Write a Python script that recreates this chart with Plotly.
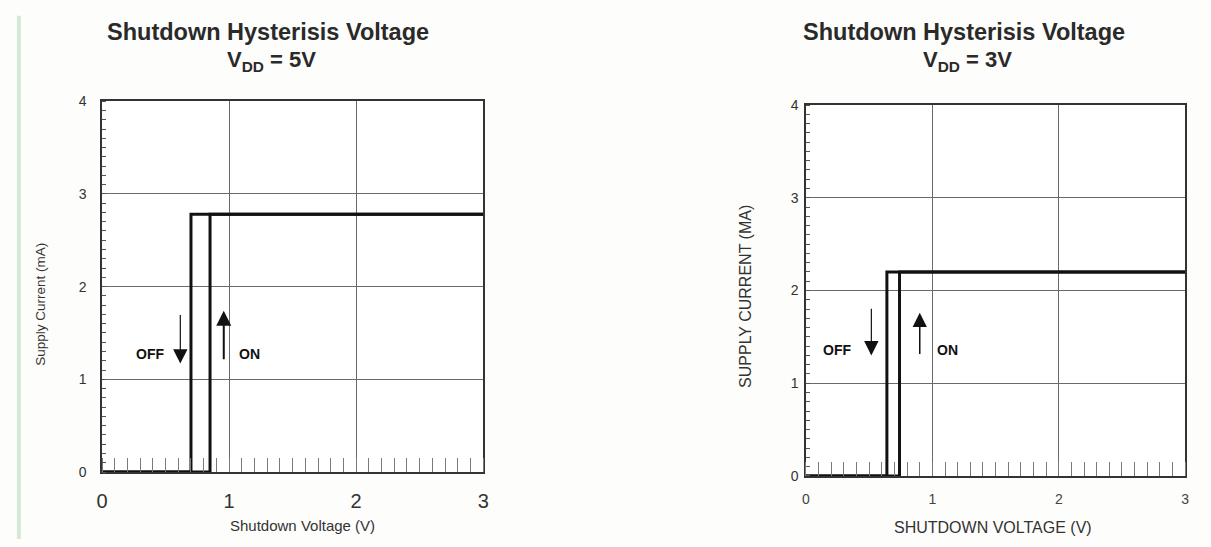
import plotly.graph_objects as go

# Supply current vs shutdown voltage, two supply conditions
# VDD = 5 V
v5_off_x = [0, 0.70, 0.70, 3]
v5_off_y = [0, 0, 2.78, 2.78]
v5_on_x = [0, 0.85, 0.85, 3]
v5_on_y = [0, 0, 2.78, 2.78]
# VDD = 3 V
v3_off_x = [0, 0.64, 0.64, 3]
v3_off_y = [0, 0, 2.2, 2.2]
v3_on_x = [0, 0.74, 0.74, 3]
v3_on_y = [0, 0, 2.2, 2.2]

x_ticks = [0, 1, 2, 3]
y_ticks = [0, 1, 2, 3, 4]

FONT = "Liberation Sans, Arial, sans-serif"
W, H = 1211, 547

fig = go.Figure()
line_style = dict(color="#111111", width=3)
for xs, ys, xa, ya in [
    (v5_off_x, v5_off_y, "x", "y"),
    (v5_on_x, v5_on_y, "x", "y"),
    (v3_off_x, v3_off_y, "x2", "y2"),
    (v3_on_x, v3_on_y, "x2", "y2"),
]:
    fig.add_trace(go.Scatter(x=xs, y=ys, mode="lines", line=line_style,
                             xaxis=xa, yaxis=ya, showlegend=False,
                             hoverinfo="skip"))


def px_x(p):
    return p / W


def px_y(p):
    return 1 - p / H


def xaxis(domain, tick_size, tick_color, anchor, standoff):
    return dict(domain=domain, range=[0, 3], tickvals=x_ticks,
                ticktext=[str(t) for t in x_ticks], showgrid=True,
                gridcolor="#6a6a6a", gridwidth=1, zeroline=False,
                showline=True, linecolor="#333333", linewidth=1.5,
                mirror=True, ticks="", ticklabelstandoff=standoff,
                anchor=anchor,
                tickfont=dict(family=FONT, size=tick_size, color=tick_color),
                minor=dict(dtick=0.1, tick0=0, ticks="inside", ticklen=14,
                           tickcolor="#7a7a7a", tickwidth=1, showgrid=False),
                fixedrange=True)


def yaxis(domain, anchor, standoff):
    return dict(domain=domain, range=[0, 4], tickvals=y_ticks,
                ticktext=[str(t) for t in y_ticks], showgrid=True,
                gridcolor="#6a6a6a", gridwidth=1, zeroline=False,
                showline=True, linecolor="#333333", linewidth=1.5,
                mirror=True, ticks="", ticklabelstandoff=standoff,
                anchor=anchor,
                tickfont=dict(family=FONT, size=14, color="#333333"),
                minor=dict(dtick=0.1, tick0=0, ticks="inside", ticklen=4,
                           tickcolor="#555555", tickwidth=1, showgrid=False),
                fixedrange=True)


fig.update_layout(
    width=W, height=H,
    margin=dict(l=0, r=0, t=0, b=0),
    paper_bgcolor="#fdfdfb", plot_bgcolor="#ffffff",
    xaxis=xaxis([px_x(97), px_x(482)], 20, "#333333", "y", 10),
    yaxis=yaxis([px_y(478), px_y(96)], "x", 11),
    xaxis2=xaxis([px_x(808), px_x(1191)], 14, "#444444", "y2", 10),
    yaxis2=yaxis([px_y(482), px_y(100)], "x2", 3),
)


def text_at(cx, cy, text, size, color="#333333", angle=0):
    return dict(x=px_x(cx), y=px_y(cy), xref="paper", yref="paper",
                xanchor="center", yanchor="middle", text=text,
                showarrow=False, textangle=angle,
                font=dict(family=FONT, size=size, color=color))


ann = []
# titles
for cx, vdd in [(265, "5V"), (968, "3V")]:
    ann.append(text_at(cx, 25, "<b>Shutdown Hysterisis Voltage</b>", 23.5,
                       "#2a2a2a"))
    ann.append(text_at(cx + 3, 55, f"<b>V<sub>DD</sub> = {vdd}</b>", 22,
                       "#2a2a2a"))

# axis titles
ann.append(text_at(299, 533, "Shutdown Voltage (V)", 15))
ann.append(text_at(34, 305, "Supply Current (mA)", 13.5, angle=-90))
ann.append(text_at(997, 535, "SHUTDOWN VOLTAGE (V)", 16))
ann.append(text_at(747, 297, "SUPPLY CURRENT (MA)", 16, angle=-90))


# OFF / ON direction arrows
def arrow(xr, yr, x, y_tail, y_head, width, size):
    return dict(x=x, y=y_head, ax=x, ay=y_tail, xref=xr, yref=yr,
                axref=xr, ayref=yr, showarrow=True, arrowhead=2,
                arrowsize=size, arrowwidth=width, arrowcolor="#111111",
                text="")


def label(xr, yr, x, y, t):
    return dict(x=x, y=y, xref=xr, yref=yr, text=f"<b>{t}</b>",
                showarrow=False, xanchor="center", yanchor="middle",
                font=dict(family=FONT, size=14, color="#111111"))


ann += [
    arrow("x", "y", 0.616, 1.71, 1.17, 1.2, 2.4),
    arrow("x", "y", 0.958, 1.20, 1.74, 2.0, 1.5),
    label("x", "y", 0.38, 1.27, "OFF"),
    label("x", "y", 1.16, 1.27, "ON"),
    arrow("x2", "y2", 0.517, 1.82, 1.30, 1.2, 2.4),
    arrow("x2", "y2", 0.90, 1.30, 1.76, 1.5, 1.9),
    label("x2", "y2", 0.245, 1.36, "OFF"),
    label("x2", "y2", 1.12, 1.36, "ON"),
]
fig.update_layout(annotations=ann)

# thin green rule along the left page edge
fig.add_shape(type="line", xref="paper", yref="paper",
              x0=px_x(13), x1=px_x(13), y0=px_y(8), y1=0,
              line=dict(color="#d6e8d6", width=4))

fig.write_html("out.html")
